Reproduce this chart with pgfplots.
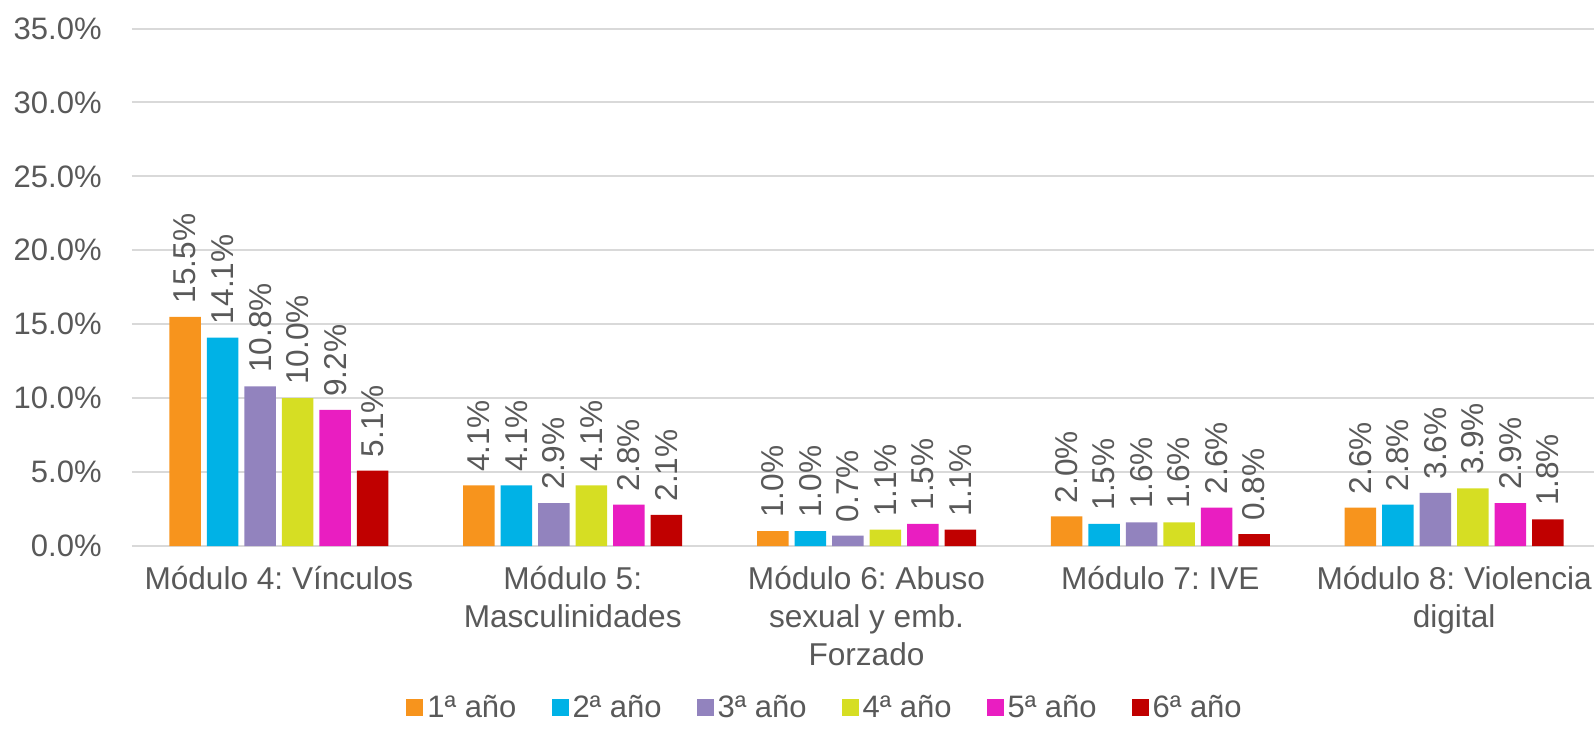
\documentclass[border=0pt]{standalone}
\usepackage{pgfplots}
\pgfplotsset{compat=1.18}
\usepackage{fontspec}
\setmainfont{Liberation Sans}
\frenchspacing
\definecolor{txt}{RGB}{89,89,89}
\definecolor{gridc}{RGB}{217,217,217}
\definecolor{cA}{RGB}{247,148,29}
\definecolor{cB}{RGB}{0,178,230}
\definecolor{cC}{RGB}{146,131,190}
\definecolor{cD}{RGB}{214,222,35}
\definecolor{cE}{RGB}{233,30,193}
\definecolor{cF}{RGB}{192,0,0}
\newcommand{\lbl}{\fontsize{15.5}{19}\selectfont}

\begin{document}
\begin{tikzpicture}
\begin{axis}[name=ax, scale only axis, width=734.5pt, height=258.75pt,
  ybar=3pt, bar width=15.75pt,
  xmin=-0.5, xmax=4.5, ymin=0, ymax=35,
  xtick={0,1,2,3,4},
  xticklabels={{Módulo 4: Vínculos},{Módulo 5:\\Masculinidades},{Módulo 6: Abuso\\sexual y emb.\\Forzado},{Módulo 7: IVE},{Módulo 8: Violencia\\digital}},
  ytick={0,5,...,35},
  /pgf/number format/assume math mode=true,
  yticklabel={\pgfmathprintnumber[fixed,fixed zerofill,precision=1]{\tick}\%},
  axis line style={draw=none}, major tick length=0pt,
  ymajorgrids, grid style={line width=1pt, gridc},
  tick label style={font=\lbl, text=txt},
  yticklabel style={anchor=east, inner sep=0pt, xshift=-15pt},
  xticklabel style={anchor=north, inner sep=0pt, yshift=-10pt, align=center, font=\fontsize{15.8}{19}\selectfont},
  nodes near coords={\pgfmathprintnumber[fixed,fixed zerofill,precision=1]{\pgfplotspointmeta}\%},
  nodes near coords style={rotate=90, anchor=west, font=\fontsize{15.8}{19}\selectfont, text=txt, inner sep=6.5pt},
  every axis plot/.append style={draw=none},
  legend image code/.code={\fill[#1] (0pt,-4.25pt) rectangle (8.5pt,4.25pt);},
  legend style={draw=none, fill=none, font=\lbl, text=txt, legend columns=6,
    at={(0.4725,0)}, anchor=center, yshift=-80.8pt,
    /tikz/every even column/.append style={column sep=15.5pt}},
  clip=false]
\addplot[fill=cA] coordinates {(0,15.5)(1,4.1)(2,1.0)(3,2.0)(4,2.6)};
\addlegendentry{1ª año}
\addplot[fill=cB] coordinates {(0,14.1)(1,4.1)(2,1.0)(3,1.5)(4,2.8)};
\addlegendentry{2ª año}
\addplot[fill=cC] coordinates {(0,10.8)(1,2.9)(2,0.7)(3,1.6)(4,3.6)};
\addlegendentry{3ª año}
\addplot[fill=cD] coordinates {(0,10.0)(1,4.1)(2,1.1)(3,1.6)(4,3.9)};
\addlegendentry{4ª año}
\addplot[fill=cE] coordinates {(0,9.2)(1,2.8)(2,1.5)(3,2.6)(4,2.9)};
\addlegendentry{5ª año}
\addplot[fill=cF] coordinates {(0,5.1)(1,2.1)(2,1.1)(3,0.8)(4,1.8)};
\addlegendentry{6ª año}
\end{axis}
\pgfresetboundingbox
\path[use as bounding box] ([xshift=-66pt,yshift=-91pt]ax.south west) rectangle ([xshift=731pt,yshift=273pt]ax.south west);
\end{tikzpicture}
\end{document}
